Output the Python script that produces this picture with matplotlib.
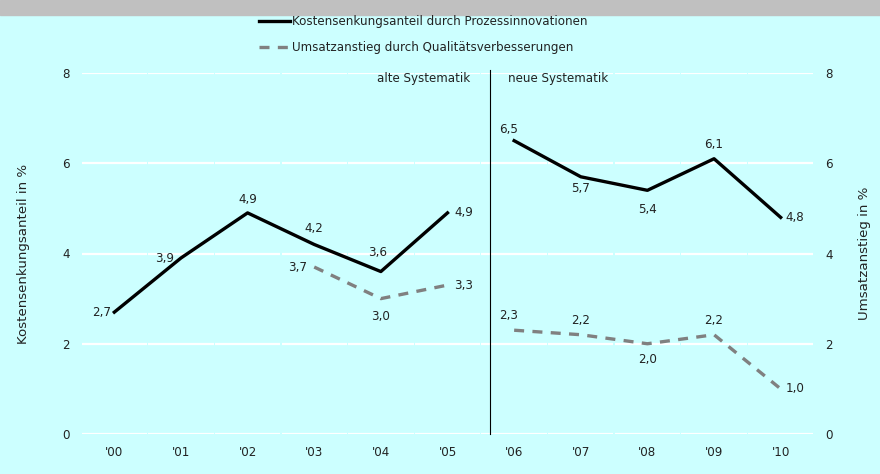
import numpy as np
import matplotlib
matplotlib.use("Agg")
from matplotlib import pyplot as plt

# ------------------------------------------------------------
# data
years = ["'00", "'01", "'02", "'03", "'04", "'05", "'06", "'07", "'08", "'09", "'10"]
kosten = [2.7, 3.9, 4.9, 4.2, 3.6, 4.9, 6.5, 5.7, 5.4, 6.1, 4.8]
umsatz = [np.nan, np.nan, np.nan, 3.7, 3.0, 3.3, 2.3, 2.2, 2.0, 2.2, 1.0]
break_after = 5          # last year of the "alte Systematik"
yticks = [0, 2, 4, 6, 8]

label_kosten = "Kostensenkungsanteil durch Prozessinnovationen"
label_umsatz = "Umsatzanstieg durch Qualitätsverbesserungen"

# label offsets in pixels (dx, dy, ha)
off_kosten = [(-3, 0, "right"), (-7, 0, "right"), (0, 13, "center"), (0, 16, "center"),
              (-3, 19, "center"), (7, 0, "left"), (-6, 11, "center"), (0, -12, "center"),
              (0, -19, "center"), (0, 14, "center"), (5, 0, "left")]
off_umsatz = [None, None, None, (-7, 0, "right"), (0, -18, "center"), (7, 0, "left"),
              (-6, 15, "center"), (0, 14, "center"), (0, -16, "center"), (0, 14, "center"),
              (5, 0, "left")]

bg = "#ccffff"
txt = "#222222"
fs = 8.6
plt.rcParams["font.family"] = "DejaVu Sans"

fig = plt.figure(figsize=(8.8, 4.74), dpi=100, facecolor=bg)
W, H = 880, 474
ax = fig.add_axes([81 / W, 1 - 434 / H, (814 - 81) / W, (434 - 73) / H])
ax.set_facecolor(bg)
ax2 = ax.twinx()

x = np.arange(len(years))

# grey strip at the top
fig.patches.append(plt.Rectangle((0, 1 - 15 / H), 1, 15 / H, transform=fig.transFigure,
                                 color="#c0c0c0", zorder=0))

# segmented white gridlines
for yv in yticks:
    for i in x:
        ax.plot([i - 0.49, i + 0.49], [yv, yv], color="white", lw=1.6, zorder=1,
                solid_capstyle="butt")

# lines
b = break_after + 1
ax.plot(x[:b], kosten[:b], color="black", lw=2.4, zorder=3, label=label_kosten)
ax.plot(x[b:], kosten[b:], color="black", lw=2.4, zorder=3)
ax2.plot(x[:b], umsatz[:b], color="#808080", lw=2.4, dashes=(3, 2.5), zorder=3,
         label=label_umsatz)
ax2.plot(x[b:], umsatz[b:], color="#808080", lw=2.4, dashes=(3, 2.5), zorder=3)

# data labels
for xi, v, o in zip(x, kosten, off_kosten):
    ax.annotate(f"{v:.1f}".replace(".", ","), (xi, v), xytext=(o[0], o[1]),
                textcoords="offset pixels", ha=o[2], va="center", fontsize=fs, color=txt)
for xi, v, o in zip(x, umsatz, off_umsatz):
    if o is None or np.isnan(v):
        continue
    ax2.annotate(f"{v:.1f}".replace(".", ","), (xi, v), xytext=(o[0], o[1]),
                 textcoords="offset pixels", ha=o[2], va="center", fontsize=fs, color=txt)

# separator between old and new systematics
sep = break_after + 0.64
ax.plot([sep, sep], [0, 8.07], color="black", lw=0.8, zorder=2, clip_on=False)
ax.text(sep - 0.3, 7.88, "alte Systematik", ha="right", va="center", fontsize=fs, color=txt)
ax.text(sep + 0.27, 7.88, "neue Systematik", ha="left", va="center", fontsize=fs, color=txt)

for a in (ax, ax2):
    a.set_xlim(-0.5, len(years) - 0.5)
    a.set_ylim(0, 8)
    a.set_yticks(yticks)
    for s in a.spines.values():
        s.set_visible(False)
    a.tick_params(length=0, labelsize=fs, colors=txt)

ax.set_xticks(x)
ax.set_xticklabels(years)
ax.tick_params(axis="x", pad=9)
ax.tick_params(axis="y", pad=8)
ax2.tick_params(axis="y", pad=8)
ax.set_ylabel("Kostensenkungsanteil in %", fontsize=9.6, color=txt, labelpad=23)
ax2.set_ylabel("Umsatzanstieg in %", fontsize=9.6, color=txt, labelpad=18)

# legend at the top
h1, l1 = ax.get_legend_handles_labels()
h2, l2 = ax2.get_legend_handles_labels()
fig.legend(h1 + h2, l1 + l2, loc="upper left", bbox_to_anchor=(248 / W, 1 - 4 / H),
           frameon=False, fontsize=fs, labelspacing=1.1, handlelength=2.6,
           handletextpad=0.15, labelcolor=txt)

fig.savefig("out.png", dpi=100, facecolor=bg)
